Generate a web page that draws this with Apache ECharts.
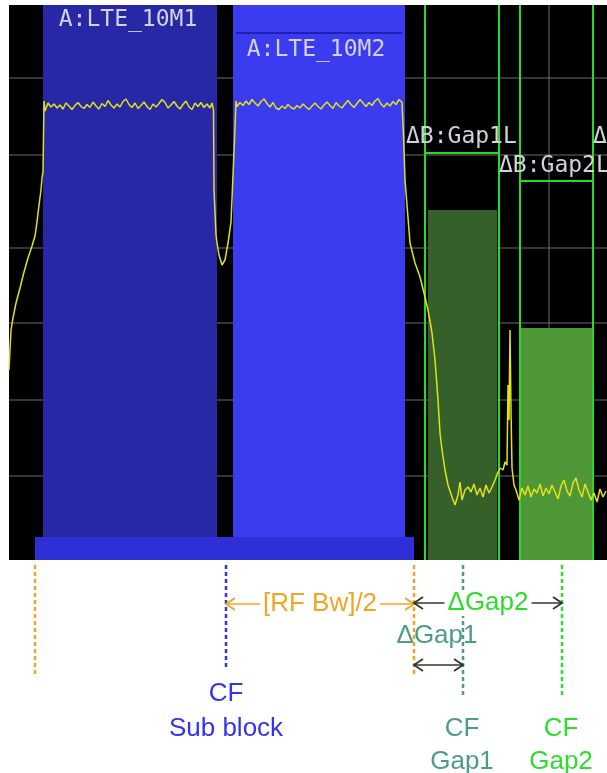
<!DOCTYPE html>
<html><head><meta charset="utf-8">
<script src="https://cdn.jsdelivr.net/npm/echarts@6/dist/echarts.min.js"></script>
<style>html,body{margin:0;padding:0;background:#fff}#c{width:607px;height:773px}</style>
</head><body><div id="c"></div>
<script>
// ---- data (frequency offset in MHz, level in dB) ----
const traceMHz = [
 0,0.1,0.2,0.4,0.7,1.1,1.5,1.9,2.3,2.6,2.8,3.0,3.2,3.3,3.4,
 3.5,3.6,3.9,4.2,4.5,4.8,5.1,5.4,5.7,6.0,6.3,6.6,6.9,7.2,7.5,7.8,8.1,8.4,8.7,9.0,9.3,9.6,9.9,10.2,10.5,10.8,11.1,11.4,11.7,12.0,12.3,12.6,12.9,13.2,13.5,13.8,14.1,14.4,14.7,15.0,15.3,15.6,15.9,16.2,16.5,16.8,17.1,17.4,17.7,18.0,18.3,18.6,18.9,19.2,19.5,19.8,20.1,20.3,20.4,
 20.45,20.5,20.7,20.8,21.0,21.3,21.6,21.9,22.2,22.6,22.7,
 22.8,23.1,23.4,23.7,24.0,24.3,24.6,24.9,25.2,25.5,25.8,26.1,26.4,26.7,27.0,27.3,27.6,27.9,28.2,28.5,28.8,29.1,29.4,29.7,30.0,30.3,30.6,30.9,31.2,31.5,31.8,32.1,32.4,32.7,33.0,33.3,33.6,33.9,34.2,34.5,34.8,35.1,35.4,35.7,36.0,36.3,36.6,36.9,37.2,37.5,37.8,38.1,38.4,38.7,39.0,39.3,
 39.4,39.45,39.6,39.8,40.1,40.6,41.1,41.6,41.9,42.3,42.6,42.9,43.1,43.3,43.6,43.9,44.3,44.6,44.9,45.1,45.3,45.6,45.9,46.2,46.5,46.8,47.1,47.4,47.7,48.0,48.3,48.6,48.9,49.1,49.4,49.6,
 49.8,49.9,50.0,50.1,50.2,50.3,50.5,
 50.7,51.0,51.3,51.6,51.9,52.2,52.5,52.8,53.1,53.4,53.7,54.0,54.3,54.6,54.9,55.2,55.5,55.8,56.1,56.4,56.7,57.0,57.3,57.6,57.9,58.2,58.5,58.8,59.1,59.4,59.7
];
const traceDb = [
 -73,-69,-65,-62.6,-59.6,-56.6,-53.4,-50.6,-48.2,-46.2,-43.4,-40,-37,-34.6,-33.4,
 -19.2,-21.2,-19.6,-20.4,-19.8,-20.6,-20.0,-20.8,-19.6,-20.2,-20.9,-20.1,-19.5,-20.3,-20.7,-19.9,-20.5,-19.4,-20.2,-20.8,-19.7,-20.3,-19.1,-20.0,-20.6,-19.8,-20.4,-19.3,-18.8,-19.9,-20.5,-19.6,-20.7,-20.1,-19.4,-20.3,-20.9,-19.8,-20.4,-19.7,-18.9,-19.5,-20.6,-20.0,-19.3,-20.2,-20.8,-19.9,-19.2,-20.4,-20.9,-19.6,-20.3,-19.5,-20.5,-19.8,-20.6,-19.6,-20.0,
 -21,-37,-46,-47.6,-50,-52,-51,-47.6,-43.4,-24.6,-19.2,
 -20.3,-19.5,-20.1,-19.2,-19.9,-18.9,-19.6,-20.2,-19.3,-18.8,-19.7,-20.4,-19.5,-20.6,-20.9,-20.2,-20.7,-19.9,-20.5,-20.8,-20.1,-20.6,-19.8,-20.4,-20.9,-20.2,-19.6,-20.3,-20.8,-20.0,-19.4,-20.1,-20.7,-19.5,-20.2,-20.6,-19.8,-19.1,-19.9,-20.5,-19.7,-18.9,-19.6,-20.3,-19.5,-20.1,-19.2,-18.7,-19.8,-20.4,-19.6,-20.2,-19.3,-19.9,-18.9,-19.5,
 -19.6,-26,-35,-40,-47.6,-51.6,-54.4,-58.4,-61,-65.6,-71,-79,-85.6,-89,-93,-96,-98.4,-100,-98,-95.4,-99,-97,-96.4,-97.4,-95.8,-98,-96.6,-98.4,-96,-97.6,-96.4,-95,-93.4,-92.6,-93,-91.4,
 -92,-76,-83,-65,-81,-92.6,-96,
 -97,-99,-96.6,-98,-96.2,-98.4,-96.8,-97.6,-95.8,-98.2,-96.6,-97.8,-96,-97.4,-98.8,-96.2,-95,-97.2,-98.2,-95.6,-94.6,-97,-98.4,-95.8,-97.4,-99,-97.6,-99.4,-96.8,-98.4,-97.2
];
const levelGridDb = [-14.6, -30, -48.6, -63.6, -79, -94.2];
const freqGridMHz = [4.4, 16.8, 29.2, 41.6, 54.0];
const blockNames = ['A:LTE_10M1', 'A:LTE_10M2'];
const blockStartMHz = [3.4, 22.4];
const blockStopMHz = [20.8, 39.6];
const blockBottomDb = -106.4;
const rfBwEdgesMHz = [2.6, 40.5];
const gapNames = ['ΔB:Gap1L', 'ΔB:Gap2L', 'ΔB:Gap1U'];
const gapStartMHz = [41.6, 51.1];
const gapStopMHz = [49.0, 58.4];
const gapFillStartMHz = [41.9, 51.1];
const gapFillStopMHz = [48.8, 58.4];
const gapLimitDb = [-29.6, -35.2];
const gapPowerDb = [-41, -64.6];
const cfSubBlockMHz = 21.7;
const cfGapMHz = [45.4, 55.3];

// ---- styles ----
const blockColors = ['#2828a6', '#3b3bf0'];
const barColor = '#2f2fd8';
const gapFillColors = ['#36602a', '#4e9636'];
const gapLineColor = '#22dd22';
const GRID = '#6c6c6c';
const ORANGE = '#f4a424', BLUE = '#3333ee', TEAL = '#4e9c84', GREEN = '#2ddd2d', DARK = '#333';

const chart = echarts.init(document.getElementById('c'), null, {renderer: 'canvas'});

function rectEl(api, x0, x1, y0, y1, fill) {
  const a = api.coord([x0, y0]), b = api.coord([x1, y1]);
  return {type: 'rect', shape: {x: Math.min(a[0], b[0]), y: Math.min(a[1], b[1]), width: Math.abs(b[0] - a[0]), height: Math.abs(b[1] - a[1])}, style: {fill}};
}
function lineEl(api, x0, y0, x1, y1, stroke, w, dash) {
  const a = api.coord([x0, y0]), b = api.coord([x1, y1]);
  const st = {stroke, lineWidth: w};
  if (dash) st.lineDash = dash;
  return {type: 'line', shape: {x1: a[0], y1: a[1], x2: b[0], y2: b[1]}, style: st};
}
function textEl(api, text, x, y, color, font, align, bg) {
  const p = api.coord([x, y]);
  const st = {text, fill: color, font, align: align || 'center', verticalAlign: 'middle'};
  if (bg) { st.backgroundColor = bg; st.padding = [0, 3]; }
  return {type: 'text', x: p[0], y: p[1], style: st};
}

const option = {
  backgroundColor: '#fff',
  animation: false,
  grid: [
    {left: 9, right: 0, top: 5, height: 555, show: true, backgroundColor: '#000', borderWidth: 0},
    {left: 9, right: 0, top: 560, height: 213, show: false}
  ],
  xAxis: [
    {gridIndex: 0, type: 'value', min: 0, max: 59.8, show: false, splitLine: {show: false}},
    {gridIndex: 1, type: 'value', min: 0, max: 59.8, show: false}
  ],
  yAxis: [
    {gridIndex: 0, type: 'value', min: -111, max: 0, show: false, splitLine: {show: false}},
    {gridIndex: 1, type: 'value', min: 0, max: 21.3, inverse: true, show: false}
  ],
  series: [
    { // level grid
      type: 'custom', xAxisIndex: 0, yAxisIndex: 0, z: 1, silent: true,
      data: levelGridDb.map(v => [0, v]),
      renderItem: (params, api) => lineEl(api, 0, api.value(1), 59.8, api.value(1), GRID, 1)
    },
    { // frequency grid
      type: 'custom', xAxisIndex: 0, yAxisIndex: 0, z: 1, silent: true,
      data: freqGridMHz.map(v => [v, 0]),
      renderItem: (params, api) => lineEl(api, api.value(0), 0, api.value(0), -111, GRID, 1)
    },
    { // sub blocks
      type: 'custom', xAxisIndex: 0, yAxisIndex: 0, z: 3, silent: true,
      data: blockStartMHz.map((s, i) => [s, blockStopMHz[i], 0, blockBottomDb]),
      encode: {x: [0, 1], y: [2, 3]},
      renderItem: (params, api) => {
        const i = params.dataIndex;
        const ch = [rectEl(api, api.value(0), api.value(1), api.value(2), api.value(3), blockColors[i])];
        if (i === 1) ch.push(lineEl(api, api.value(0) + 0.3, -5.6, api.value(1) - 0.3, -5.6, '#2020b4', 2));
        return {type: 'group', children: ch};
      }
    },
    { // RF bandwidth bar
      type: 'custom', xAxisIndex: 0, yAxisIndex: 0, z: 3, silent: true,
      data: [[rfBwEdgesMHz[0], rfBwEdgesMHz[1], blockBottomDb, -111]],
      encode: {x: [0, 1], y: [2, 3]},
      renderItem: (params, api) => rectEl(api, api.value(0), api.value(1), api.value(2), api.value(3), barColor)
    },
    { // gaps
      type: 'custom', xAxisIndex: 0, yAxisIndex: 0, z: 4, silent: true,
      data: gapStartMHz.map((s, i) => [s, gapStopMHz[i], gapLimitDb[i], gapPowerDb[i], gapFillStartMHz[i], gapFillStopMHz[i]]),
      encode: {x: [0, 1], y: [2, 3]},
      renderItem: (params, api) => {
        const i = params.dataIndex;
        const s = api.value(0), e = api.value(1), lim = api.value(2), pw = api.value(3);
        return {type: 'group', children: [
          rectEl(api, api.value(4), api.value(5), pw, -111, gapFillColors[i]),
          lineEl(api, s, 0, s, -111, gapLineColor, 2),
          lineEl(api, e, 0, e, -111, gapLineColor, 2),
          lineEl(api, s, lim, e, lim, gapLineColor, 2)
        ]};
      }
    },
    { // spectrum trace
      type: 'line', xAxisIndex: 0, yAxisIndex: 0, z: 6, silent: true,
      showSymbol: false, symbol: 'none',
      data: traceMHz.map((f, i) => [f, traceDb[i]]),
      lineStyle: {color: '#e2e21c', width: 1.5}
    },
    { // labels in the display
      type: 'custom', xAxisIndex: 0, yAxisIndex: 0, z: 7, silent: true, clip: false,
      data: [[0, 0]],
      renderItem: (params, api) => {
        const F = '23px "DejaVu Sans Mono", monospace', C = '#d2d2dc';
        return {type: 'group', children: [
          textEl(api, blockNames[0], 11.9, -3, C, F, 'center'),
          textEl(api, blockNames[1], 30.7, -9, C, F, 'center'),
          textEl(api, gapNames[0], 39.7, -26.4, C, F, 'left'),
          textEl(api, gapNames[1], 49.0, -32.2, C, F, 'left'),
          textEl(api, gapNames[2], 58.4, -26.4, C, F, 'left')
        ]};
      }
    },
    { // annotations below the display
      type: 'custom', xAxisIndex: 1, yAxisIndex: 1, z: 5, silent: true, clip: false,
      data: [[0, 0]],
      renderItem: (params, api) => {
        const ch = [];
        const FT = '26px "Liberation Sans", Arial, sans-serif';
        const dashL = [4, 3];
        ch.push(lineEl(api, rfBwEdgesMHz[0], 0.5, rfBwEdgesMHz[0], 11.7, ORANGE, 2.5, dashL));
        ch.push(lineEl(api, cfSubBlockMHz, 0.5, cfSubBlockMHz, 11.0, BLUE, 2.5, dashL));
        ch.push(lineEl(api, rfBwEdgesMHz[1], 0.5, rfBwEdgesMHz[1], 11.7, ORANGE, 2.5, dashL));
        ch.push(lineEl(api, cfGapMHz[0], 0.5, cfGapMHz[0], 13.5, TEAL, 2.5, dashL));
        ch.push(lineEl(api, cfGapMHz[1], 0.5, cfGapMHz[1], 13.5, GREEN, 2.5, dashL));
        const arrow = (f0, f1, r, color) => {
          const a = api.coord([f0, r]), b = api.coord([f1, r]);
          ch.push({type: 'line', shape: {x1: a[0], y1: a[1], x2: b[0], y2: b[1]}, style: {stroke: color, lineWidth: 1.6}});
          ch.push({type: 'polyline', shape: {points: [[a[0] + 9, a[1] - 6], [a[0], a[1]], [a[0] + 9, a[1] + 6]]}, style: {stroke: color, lineWidth: 1.8, fill: null}});
          ch.push({type: 'polyline', shape: {points: [[b[0] - 9, b[1] - 6], [b[0], b[1]], [b[0] - 9, b[1] + 6]]}, style: {stroke: color, lineWidth: 1.8, fill: null}});
        };
        arrow(cfSubBlockMHz, rfBwEdgesMHz[1], 4.4, ORANGE);
        arrow(rfBwEdgesMHz[1], cfGapMHz[1], 4.3, DARK);
        arrow(rfBwEdgesMHz[1], cfGapMHz[0], 10.5, DARK);
        ch.push(textEl(api, '[RF Bw]/2', 31.1, 4.4, ORANGE, FT, 'center', '#fff'));
        ch.push(textEl(api, 'ΔGap2', 47.9, 4.3, GREEN, FT, 'center', '#fff'));
        ch.push(textEl(api, 'ΔGap1', 42.8, 7.6, TEAL, FT, 'center'));
        ch.push(textEl(api, 'CF', cfSubBlockMHz, 13.4, BLUE, FT, 'center'));
        ch.push(textEl(api, 'Sub block', cfSubBlockMHz, 16.9, BLUE, FT, 'center'));
        ch.push(textEl(api, 'CF', cfGapMHz[0] - 0.1, 16.9, TEAL, FT, 'center'));
        ch.push(textEl(api, 'Gap1', cfGapMHz[0] - 0.1, 20.2, TEAL, FT, 'center'));
        ch.push(textEl(api, 'CF', cfGapMHz[1] - 0.1, 16.9, GREEN, FT, 'center'));
        ch.push(textEl(api, 'Gap2', cfGapMHz[1] - 0.1, 20.2, GREEN, FT, 'center'));
        return {type: 'group', children: ch};
      }
    }
  ]
};
chart.setOption(option);
</script>
</body></html>
